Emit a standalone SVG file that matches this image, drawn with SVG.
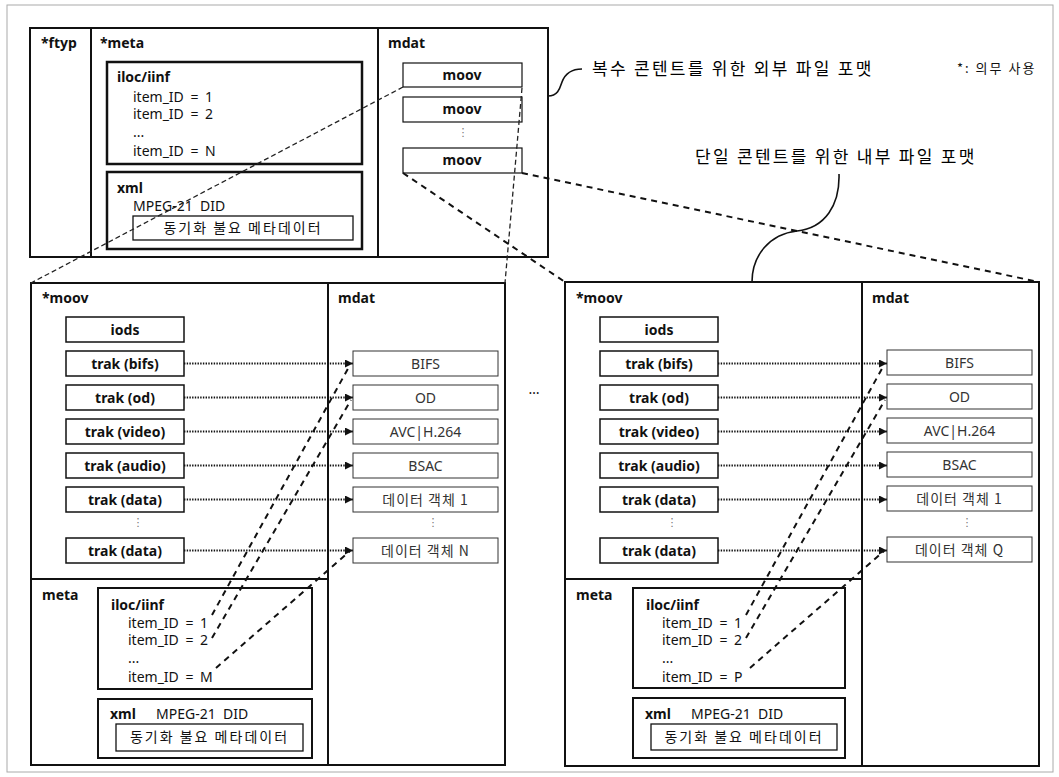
<svg xmlns="http://www.w3.org/2000/svg" width="1059" height="777" viewBox="0 0 1059 777">
<defs>
<marker id="ah" viewBox="0 0 10 10" refX="10" refY="5" markerWidth="8" markerHeight="8" markerUnits="userSpaceOnUse" orient="auto">
<path d="M0,0 L10,5 L0,10 z" fill="#111"/>
</marker>
<style>
text{font-family:"Noto Sans","Noto Sans CJK KR",sans-serif;fill:#111}
.b{font-weight:bold;font-size:14px}
.r{font-size:14px}
.id{word-spacing:3px}
.c{text-anchor:middle}
.k{font-family:"Noto Sans CJK KR","Noto Sans",sans-serif}
.g{fill:#333}
.pre{white-space:pre}
.ann{font-family:"Noto Sans CJK KR",sans-serif;font-size:17px;letter-spacing:2.3px;fill:#000}
.dots{font-family:"DejaVu Sans",sans-serif;font-size:11px;fill:#777;text-anchor:middle}
.box{fill:none;stroke:#111}
.thick{stroke-width:2.5}
.med{stroke-width:2}
.trk{stroke-width:1.5}
.thin{stroke-width:1;stroke:#333}
.dot{fill:none;stroke:#111;stroke-width:1.8;stroke-dasharray:1.4 1.3}
.dash{fill:none;stroke:#111;stroke-width:2;stroke-dasharray:6 5}
.dash2{fill:none;stroke:#222;stroke-width:1.3;stroke-dasharray:5 3}
.curve{fill:none;stroke:#111;stroke-width:1.6}
</style>
</defs>
<rect x="7" y="5" width="1046" height="767" fill="#fff" stroke="#aaa" stroke-width="1"/>

<!-- top outer file -->
<g id="outer-file">
<rect class="box med" x="30" y="28" width="518" height="229"/>
<line class="box med" x1="91" y1="28" x2="91" y2="257"/>
<line class="box med" x1="378" y1="28" x2="378" y2="257"/>
<text class="b" x="41" y="48">*ftyp</text>
<text class="b" x="100" y="48">*meta</text>
<text class="b" x="388" y="48">mdat</text>
</g>
<g id="top-iloc">
<rect class="box thick" x="107" y="62" width="255" height="102"/>
<text class="b" x="117" y="82">iloc/iinf</text>
<text class="r id" x="133" y="102">item_ID = 1</text>
<text class="r id" x="133" y="119">item_ID = 2</text>
<text class="r" x="133" y="137" font-size="9">...</text>
<text class="r id" x="133" y="156">item_ID = N</text>
</g>
<g id="top-xml">
<rect class="box thick" x="107" y="172" width="255" height="77"/>
<text class="b" x="117" y="193">xml</text>
<text class="r pre" x="133" y="211">MPEG-21  DID</text>
<rect class="box" stroke-width="1.3" x="133" y="216" width="220" height="24"/>
<text class="r k c" x="243" y="233" letter-spacing="2">동기화 불요 메타데이터</text>
</g>
<g id="top-moov-1">
<rect class="box" stroke-width="1.2" x="403" y="63" width="119" height="24"/>
<text class="b c" x="462" y="80">moov</text>
</g>
<g id="top-moov-2">
<rect class="box" stroke-width="1.2" x="403" y="97" width="119" height="25"/>
<text class="b c" x="462" y="114">moov</text>
</g>
<text class="dots" x="463" y="136">⋮</text>
<g id="top-moov-3">
<rect class="box" stroke-width="1.2" x="403" y="148" width="119" height="25"/>
<text class="b c" x="462" y="165">moov</text>
</g>

<!-- annotations -->
<g id="note-outer">
<path class="curve" d="M548,96 C558,96 560,88 562,82 C565,74 571,69 582,69"/>
<text class="ann" x="592" y="75">복수 콘텐트를 위한 외부 파일 포맷</text>
</g>
<g id="note-legend">
<text class="k" x="957" y="73" font-size="13" letter-spacing="2">*: 의무 사용</text>
</g>
<g id="note-inner">
<path class="curve" d="M839,174 C840,205 825,228 797,231 C770,234 752,255 752,282"/>
<text class="ann" x="695" y="163">단일 콘텐트를 위한 내부 파일 포맷</text>
</g>
<text x="534" y="394" font-size="14" text-anchor="middle">…</text>

<!-- lower left inner file -->
<g id="inner-file-1">
<rect class="box med" x="31" y="283" width="474" height="482"/>
<line class="box med" x1="328" y1="283" x2="328" y2="765"/>
<line class="box med" x1="31" y1="579" x2="328" y2="579"/>
<text class="b" x="42" y="303">*moov</text>
<text class="b" x="338" y="303">mdat</text>
<text class="b" x="42" y="600">meta</text>
<g id="iods-1"><rect class="box trk" x="66" y="317" width="118" height="25"/><text class="b c" x="125" y="334.5">iods</text></g>
<g id="trak-bifs-1"><rect class="box trk" x="66" y="351" width="118" height="25"/><text class="b c" x="125" y="368.5">trak (bifs)</text></g>
<g id="trak-od-1"><rect class="box trk" x="66" y="385" width="118" height="25"/><text class="b c" x="125" y="402.5">trak (od)</text></g>
<g id="trak-video-1"><rect class="box trk" x="66" y="419" width="118" height="25"/><text class="b c" x="125" y="436.5">trak (video)</text></g>
<g id="trak-audio-1"><rect class="box trk" x="66" y="453" width="118" height="25"/><text class="b c" x="125" y="470.5">trak (audio)</text></g>
<g id="trak-data1-1"><rect class="box trk" x="66" y="487" width="118" height="25"/><text class="b c" x="125" y="504.5">trak (data)</text></g>
<text class="dots" x="138" y="526">⋮</text>
<g id="trak-dataN-1"><rect class="box trk" x="66" y="538" width="118" height="25"/><text class="b c" x="125" y="555.5">trak (data)</text></g>
<g id="bifs-1"><rect class="box thin" x="353" y="351" width="145" height="25"/><text class="r c g" x="425.5" y="368.5">BIFS</text></g>
<g id="od-1"><rect class="box thin" x="353" y="385" width="145" height="25"/><text class="r c g" x="425.5" y="402.5">OD</text></g>
<g id="avc-1"><rect class="box thin" x="353" y="419" width="145" height="25"/><text class="r c g" x="425.5" y="436.5">AVC|H.264</text></g>
<g id="bsac-1"><rect class="box thin" x="353" y="453" width="145" height="25"/><text class="r c g" x="425.5" y="470.5">BSAC</text></g>
<g id="obj1-1"><rect class="box thin" x="353" y="487" width="145" height="25"/><text class="r c g k" x="425.5" y="504.5" letter-spacing="1">데이터 객체 1</text></g>
<text class="dots" x="433" y="526">⋮</text>
<g id="objN-1"><rect class="box thin" x="353" y="538" width="145" height="25"/><text class="r c g k" x="425.5" y="555.5" letter-spacing="1">데이터 객체 N</text></g>
<g id="iloc-1">
<rect class="box med" x="98" y="588" width="214" height="101"/>
<text class="b" x="111" y="610">iloc/iinf</text>
<text class="r id" x="128" y="628">item_ID = 1</text>
<text class="r id" x="128" y="645">item_ID = 2</text>
<text class="r" x="128" y="663" font-size="9">...</text>
<text class="r id" x="128" y="682">item_ID = M</text>
</g>
<g id="xml-1">
<rect class="box med" x="98" y="699" width="214" height="59"/>
<text class="b" x="110" y="719">xml</text>
<text class="r pre" x="156" y="719">MPEG-21  DID</text>
<rect class="box" stroke-width="1.3" x="116" y="724" width="187" height="27"/>
<text class="r k c" x="209.5" y="742" letter-spacing="2">동기화 불요 메타데이터</text>
</g>
</g>

<!-- lower right inner file -->
<g id="inner-file-2" transform="translate(534,0)">
<rect class="box med" x="31" y="282" width="474" height="484"/>
<line class="box med" x1="328" y1="282" x2="328" y2="766"/>
<line class="box med" x1="31" y1="579" x2="328" y2="579"/>
<text class="b" x="42" y="303">*moov</text>
<text class="b" x="338" y="303">mdat</text>
<text class="b" x="42" y="600">meta</text>
<g id="iods-2"><rect class="box trk" x="66" y="317" width="118" height="25"/><text class="b c" x="125" y="334.5">iods</text></g>
<g id="trak-bifs-2"><rect class="box trk" x="66" y="351" width="118" height="25"/><text class="b c" x="125" y="368.5">trak (bifs)</text></g>
<g id="trak-od-2"><rect class="box trk" x="66" y="385" width="118" height="25"/><text class="b c" x="125" y="402.5">trak (od)</text></g>
<g id="trak-video-2"><rect class="box trk" x="66" y="419" width="118" height="25"/><text class="b c" x="125" y="436.5">trak (video)</text></g>
<g id="trak-audio-2"><rect class="box trk" x="66" y="453" width="118" height="25"/><text class="b c" x="125" y="470.5">trak (audio)</text></g>
<g id="trak-data1-2"><rect class="box trk" x="66" y="487" width="118" height="25"/><text class="b c" x="125" y="504.5">trak (data)</text></g>
<text class="dots" x="138" y="526">⋮</text>
<g id="trak-dataN-2"><rect class="box trk" x="66" y="538" width="118" height="25"/><text class="b c" x="125" y="555.5">trak (data)</text></g>
<g id="bifs-2"><rect class="box thin" x="353" y="350" width="145" height="25"/><text class="r c g" x="425.5" y="367.5">BIFS</text></g>
<g id="od-2"><rect class="box thin" x="353" y="384" width="145" height="25"/><text class="r c g" x="425.5" y="401.5">OD</text></g>
<g id="avc-2"><rect class="box thin" x="353" y="418" width="145" height="25"/><text class="r c g" x="425.5" y="435.5">AVC|H.264</text></g>
<g id="bsac-2"><rect class="box thin" x="353" y="452" width="145" height="25"/><text class="r c g" x="425.5" y="469.5">BSAC</text></g>
<g id="obj1-2"><rect class="box thin" x="353" y="486" width="145" height="25"/><text class="r c g k" x="425.5" y="503.5" letter-spacing="1">데이터 객체 1</text></g>
<text class="dots" x="433" y="526">⋮</text>
<g id="objQ-2"><rect class="box thin" x="353" y="537" width="145" height="25"/><text class="r c g k" x="425.5" y="554.5" letter-spacing="1">데이터 객체 Q</text></g>
<g id="iloc-2">
<rect class="box med" x="99" y="588" width="212" height="100"/>
<text class="b" x="112" y="610">iloc/iinf</text>
<text class="r id" x="128" y="628">item_ID = 1</text>
<text class="r id" x="128" y="645">item_ID = 2</text>
<text class="r" x="128" y="663" font-size="9">...</text>
<text class="r id" x="128" y="682">item_ID = P</text>
</g>
<g id="xml-2">
<rect class="box med" x="99" y="698" width="212" height="60"/>
<text class="b" x="111" y="719">xml</text>
<text class="r pre" x="157" y="719">MPEG-21  DID</text>
<rect class="box" stroke-width="1.3" x="117" y="724" width="186" height="26"/>
<text class="r k c" x="210" y="742" letter-spacing="2">동기화 불요 메타데이터</text>
</g>
</g>

<!-- connectors -->
<g id="connectors">
<line class="dash2" x1="403" y1="87" x2="31" y2="283"/>
<line class="dash2" x1="522" y1="88" x2="505" y2="283"/>
<line class="dash" x1="403" y1="173" x2="565" y2="282"/>
<line class="dash" x1="522" y1="173" x2="1039" y2="282"/>

<line class="dot" x1="184" y1="363.5" x2="353" y2="363.5" marker-end="url(#ah)"/>
<line class="dot" x1="184" y1="397.5" x2="353" y2="397.5" marker-end="url(#ah)"/>
<line class="dot" x1="184" y1="431.5" x2="353" y2="431.5" marker-end="url(#ah)"/>
<line class="dot" x1="184" y1="465.5" x2="353" y2="465.5" marker-end="url(#ah)"/>
<line class="dot" x1="184" y1="499.5" x2="353" y2="499.5" marker-end="url(#ah)"/>
<line class="dot" x1="184" y1="550.5" x2="353" y2="550.5" marker-end="url(#ah)"/>
<line class="dash" x1="212" y1="615" x2="350" y2="365"/>
<line class="dash" x1="212" y1="638" x2="351" y2="400"/>
<line class="dash" x1="216" y1="668" x2="350" y2="551"/>

<line class="dot" x1="718" y1="363.5" x2="887" y2="363.5" marker-end="url(#ah)"/>
<line class="dot" x1="718" y1="397.5" x2="887" y2="397.5" marker-end="url(#ah)"/>
<line class="dot" x1="718" y1="431.5" x2="887" y2="431.5" marker-end="url(#ah)"/>
<line class="dot" x1="718" y1="465.5" x2="887" y2="465.5" marker-end="url(#ah)"/>
<line class="dot" x1="718" y1="499.5" x2="887" y2="499.5" marker-end="url(#ah)"/>
<line class="dot" x1="718" y1="550.5" x2="887" y2="550.5" marker-end="url(#ah)"/>
<line class="dash" x1="746" y1="615" x2="884" y2="365"/>
<line class="dash" x1="746" y1="638" x2="885" y2="400"/>
<line class="dash" x1="750" y1="668" x2="884" y2="551"/>
</g>
</svg>
